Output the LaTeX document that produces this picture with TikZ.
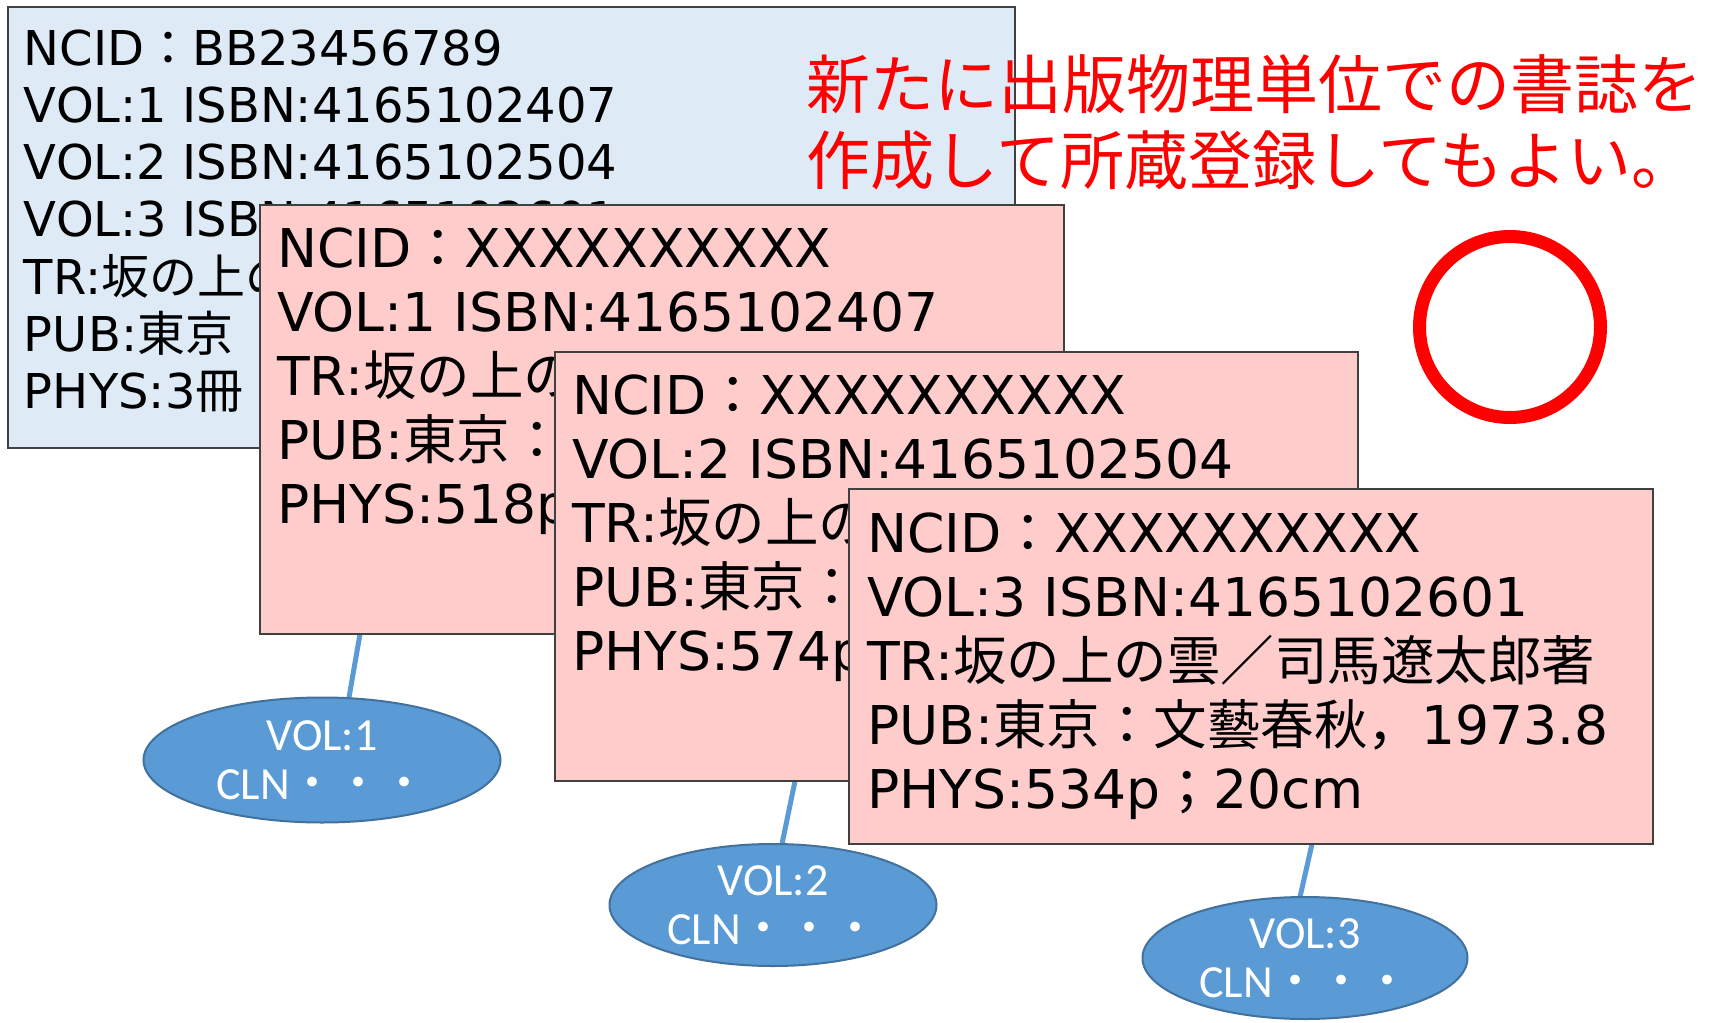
\documentclass[tikz,border=0pt]{standalone}
\usepackage{fontspec}
\setmainfont{DejaVu Sans}
\newfontfamily\jpf{Noto Sans CJK JP}
\newfontfamily\calfont{Carlito}
\newcommand{\jtx}[1]{{\jpf #1}}
\usetikzlibrary{shapes.geometric,backgrounds}
\definecolor{boxblue}{HTML}{DEEBF7}
\definecolor{boxpink}{HTML}{FFCCCC}
\definecolor{ellfill}{HTML}{5B9BD5}
\definecolor{elldraw}{HTML}{41719C}
\definecolor{edgegray}{HTML}{404040}
\newcommand{\bluetext}[1]{\parbox[t]{480pt}{\raggedright\fontsize{24pt}{28.65pt}\selectfont #1}}
\newcommand{\pinktext}[1]{\parbox[t]{480pt}{\raggedright\fontsize{26.75pt}{32.1pt}\selectfont #1}}
\tikzset{
  card/.style={draw=edgegray, line width=1pt, anchor=north west, inner sep=0pt, outer sep=0pt},
  bluecard/.style={card, fill=boxblue},
  pinkcard/.style={card, fill=boxpink, minimum width=402pt},
  cardtext/.style={anchor=base west, inner sep=0pt, outer sep=0pt},
  vol/.style={ellipse, fill=ellfill, draw=elldraw, line width=1pt, inner sep=0pt, outer sep=0pt,
    text=white, align=center, font=\calfont\fontsize{23pt}{24.5pt}\selectfont},
  conn/.style={draw=ellfill, line width=2.5pt},
  note/.style={anchor=base west, inner sep=0pt, text=red},
  okmark/.style={circle, draw=red, line width=6.5pt, minimum size=90.5pt, inner sep=0pt},
}
\begin{document}
\begin{tikzpicture}[x=0.5pt,y=-0.5pt]
\useasboundingbox (0,0) rectangle (1710,1023);
% blue aggregate record
\node[bluecard, minimum width=503.5pt, minimum height=220.5pt] (blue) at (8,7) {};
\node[cardtext] (bluetxt) at (24,65) {\bluetext{NCID\jtx{：}BB23456789\\
VOL:1 ISBN:4165102407\\
VOL:2 ISBN:4165102504\\
VOL:3 ISBN:4165102601\\
TR:\jtx{坂の上の}\\
PUB:\jtx{東京}\\
PHYS:3\jtx{冊}}};
% note
\node[note] (notetxt) at (806,108) {\parbox[t]{470pt}{\raggedright\jpf\fontsize{32pt}{38pt}\selectfont 新たに出版物理単位での書誌を\\作成して所蔵登録してもよい。}};
\node[okmark] (ok) at (1510,327) {};
% pink 1
\node[pinkcard, minimum height=214.5pt] (p1) at (260,205) {};
\node[cardtext] (p1txt) at (277,267) {\pinktext{NCID\jtx{：}XXXXXXXXXX\\
VOL:1 ISBN:4165102407\\
TR:\jtx{坂の上の}\\
PUB:\jtx{東京：}\\
PHYS:518p}};
% pink 2
\node[pinkcard, minimum width=401.5pt, minimum height=214.5pt] (p2) at (555,352) {};
\node[cardtext] (p2txt) at (572,414) {\pinktext{NCID\jtx{：}XXXXXXXXXX\\
VOL:2 ISBN:4165102504\\
TR:\jtx{坂の上の}\\
PUB:\jtx{東京：}\\
PHYS:574p}};
% pink 3
\node[pinkcard, minimum height=177.5pt] (p3) at (849,489) {};
\node[cardtext] (p3txt) at (867,552) {\pinktext{NCID\jtx{：}XXXXXXXXXX\\
VOL:3 ISBN:4165102601\\
TR:\jtx{坂の上の雲／司馬遼太郎著}\\
PUB:\jtx{東京：文藝春秋，}1973.8\\
PHYS:534p\jtx{；}20cm}};
% holdings
\node[vol, minimum width=178.5pt, minimum height=62.5pt] (e1) at (322,760) {VOL:1\\CLN\jtx{・・・}};
\node[vol, minimum width=163.5pt, minimum height=61pt] (e2) at (773,905) {VOL:2\\CLN\jtx{・・・}};
\node[vol, minimum width=162.5pt, minimum height=61pt] (e3) at (1305,958) {VOL:3\\CLN\jtx{・・・}};
\begin{scope}[on background layer]
\draw[conn] ([xshift=-151pt]p1.south) -- ([xshift=13.5pt]e1.north);
\draw[conn] ([xshift=-80.75pt]p2.south) -- ([xshift=4.5pt]e2.north);
\draw[conn] ([xshift=30.5pt]p3.south) -- ([xshift=-2.5pt]e3.north);
\end{scope}
\end{tikzpicture}
\end{document}
